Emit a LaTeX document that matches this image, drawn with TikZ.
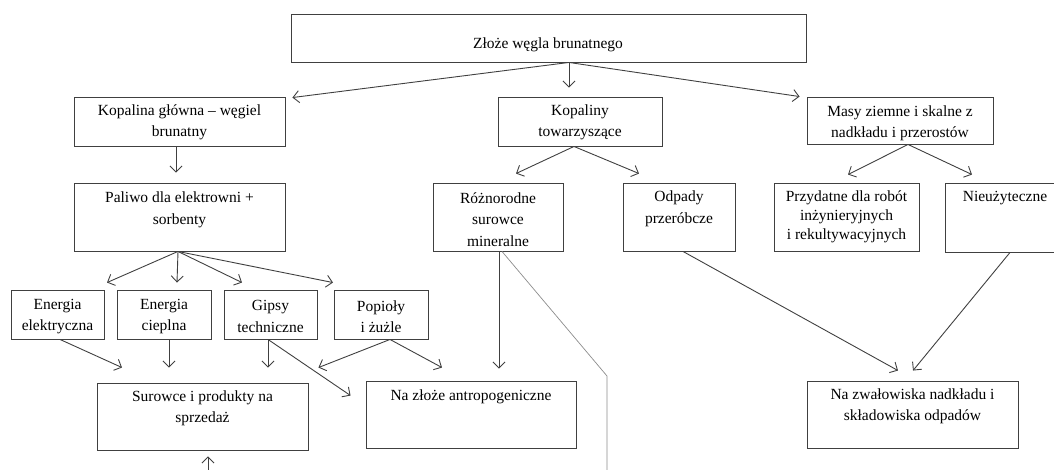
\documentclass[tikz,border=0pt]{standalone}
\usepackage{fontspec}
\setmainfont{Liberation Serif}
\usetikzlibrary{arrows.meta}
\begin{document}
\begin{tikzpicture}[x=1pt,y=-1pt]
\tikzstyle{every node}+=[inner sep=0pt]
\tikzstyle{box}=[draw=black!75, line width=0.9pt]
\tikzstyle{txt}=[align=center, font=\fontsize{15.5}{21.5}\selectfont]
\tikzstyle{arr}=[draw=black!75, line width=0.9pt, -{Straight Barb[length=6pt,width=12pt]}]
\useasboundingbox (0,0) rectangle (1054,469);
% boxes
\node [box, minimum width=515pt, minimum height=48pt] (top) at (548.5,38) {};
\node [box, minimum width=211pt, minimum height=49pt] (kopalina) at (179.5,121.5) {};
\node [box, minimum width=164pt, minimum height=49pt] (kopaliny) at (580,121.5) {};
\node [box, minimum width=186pt, minimum height=47pt] (masy) at (900,120.5) {};
\node [box, minimum width=211pt, minimum height=68pt] (paliwo) at (179.5,217) {};
\node [box, minimum width=130pt, minimum height=68pt] (rozne) at (498,217) {};
\node [box, minimum width=112pt, minimum height=68pt] (odpady) at (679,217) {};
\node [box, minimum width=145pt, minimum height=68pt] (przyd) at (846.5,217) {};
\node [box, minimum width=125pt, minimum height=69pt] (nieuz) at (1007.5,217.5) {};
\node [box, minimum width=93pt, minimum height=49pt] (eel) at (57.5,314.5) {};
\node [box, minimum width=94pt, minimum height=49pt] (ecp) at (164,314.5) {};
\node [box, minimum width=93pt, minimum height=49pt] (gips) at (270.5,314.5) {};
\node [box, minimum width=94pt, minimum height=49pt] (pop) at (381,314.5) {};
\node [box, minimum width=211pt, minimum height=67pt] (sur) at (202.5,416.5) {};
\node [box, minimum width=210pt, minimum height=67pt] (antr) at (471,414.5) {};
\node [box, minimum width=211pt, minimum height=67pt] (zwal) at (912.5,414.5) {};
% texts
\node [txt] (topt) at (548,45) {Złoże węgla brunatnego};
\node [txt] (kopalinat) at (179.5,122.5) {Kopalina główna -- węgiel\\brunatny};
\node [txt] (kopalinyt) at (580,122.5) {Kopaliny\\towarzyszące};
\node [txt] (masyt) at (900,123.5) {Masy ziemne i skalne z\\nadkładu i przerostów};
\node [txt] (paliwot) at (179.5,210) {Paliwo dla elektrowni +\\sorbenty};
\node [txt] (roznet) at (498,219.5) {Różnorodne\\surowce\\mineralne};
\node [txt] (odpadyt) at (679,209) {Odpady\\przeróbcze};
\node [txt, font=\fontsize{15.5}{19}\selectfont] (przydt) at (846.5,217) {Przydatne dla robót\\inżynieryjnych\\i rekultywacyjnych};
\node [txt] (nieuzt) at (1005,198) {Nieużyteczne};
\node [txt] (eelt) at (57.5,316.5) {Energia\\elektryczna};
\node [txt] (ecpt) at (164,316.5) {Energia\\cieplna};
\node [txt] (gipst) at (270.5,316.5) {Gipsy\\techniczne};
\node [txt] (popt) at (381,316.5) {Popioły\\i żużle};
\node [txt] (surt) at (202.5,408.5) {Surowce i produkty na\\sprzedaż};
\node [txt] (antrt) at (471,397) {Na złoże antropogeniczne};
\node [txt] (zwalt) at (912.5,406.5) {Na zwałowiska nadkładu i\\składowiska odpadów};
% forks
\coordinate (topfork) at ([xshift=20.5pt]top.south);
\coordinate (kopfork) at ([xshift=-6pt]kopaliny.south);
\coordinate (masyfork) at ([xshift=8pt]masy.south);
\coordinate (palfork) at ([xshift=-1.5pt]paliwo.south);
\coordinate (gipsfork) at ([xshift=-2.5pt]gips.south);
\coordinate (popfork) at ([xshift=9pt]pop.south);
\coordinate (sprz) at (208,475);
\coordinate (bend) at (607,376);
\coordinate (bendend) at (607,475);
% arrows
\draw [arr] (topfork) -- ([xshift=7pt,yshift=-1pt]kopalina.north east);
\draw [arr] (topfork) -- ([xshift=-11pt,yshift=9pt]kopaliny.north);
\draw [arr] (topfork) -- ([xshift=-7pt]masy.north west);
\draw [arr] ([xshift=-3.5pt]kopalina.south) -- ([xshift=-3.5pt,yshift=10pt]paliwo.north);
\draw [arr] (palfork) -- ([xshift=49.5pt,yshift=7pt]eel.north);
\draw [arr] (palfork) -- ([xshift=13pt,yshift=7pt]ecp.north);
\draw [arr] (palfork) -- ([xshift=-28.5pt,yshift=7pt]gips.north);
\draw [arr] (palfork) -- ([xshift=-48pt,yshift=7pt]pop.north);
\draw [arr] (kopfork) -- ([xshift=18pt,yshift=9pt]rozne.north);
\draw [arr] (kopfork) -- ([xshift=-40pt,yshift=9pt]odpady.north);
\draw [arr] (masyfork) -- ([xshift=1.5pt,yshift=8pt]przyd.north);
\draw [arr] (masyfork) -- ([xshift=-35.5pt,yshift=8pt]nieuz.north);
\draw [arr] ([xshift=2.5pt]eel.south) -- ([xshift=-80.5pt,yshift=15pt]sur.north);
\draw [arr] ([xshift=5pt]ecp.south) -- ([xshift=-33.5pt,yshift=15pt]sur.north);
\draw [arr] (gipsfork) -- ([xshift=65.5pt,yshift=15pt]sur.north);
\draw [arr] (gipsfork) -- ([xshift=-15pt,yshift=-15pt]antr.north west);
\draw [arr] (popfork) -- ([xshift=10pt,yshift=15pt]sur.north east);
\draw [arr] (popfork) -- ([xshift=-29pt,yshift=13pt]antr.north);
\draw [arr] ([xshift=1pt]rozne.south) -- ([xshift=28pt,yshift=12pt]antr.north);
\draw [arr] ([xshift=4pt]odpady.south) -- ([xshift=-14.5pt,yshift=10pt]zwal.north);
\draw [arr] ([xshift=2.5pt]nieuz.south) -- ([xshift=0.5pt,yshift=10pt]zwal.north);
\draw [arr] (sprz) -- ([xshift=5.5pt,yshift=-6pt]sur.south);
\draw [black!45, line width=0.7pt] ([xshift=4pt]rozne.south) -- (bend) -- (bendend);
\end{tikzpicture}
\end{document}
